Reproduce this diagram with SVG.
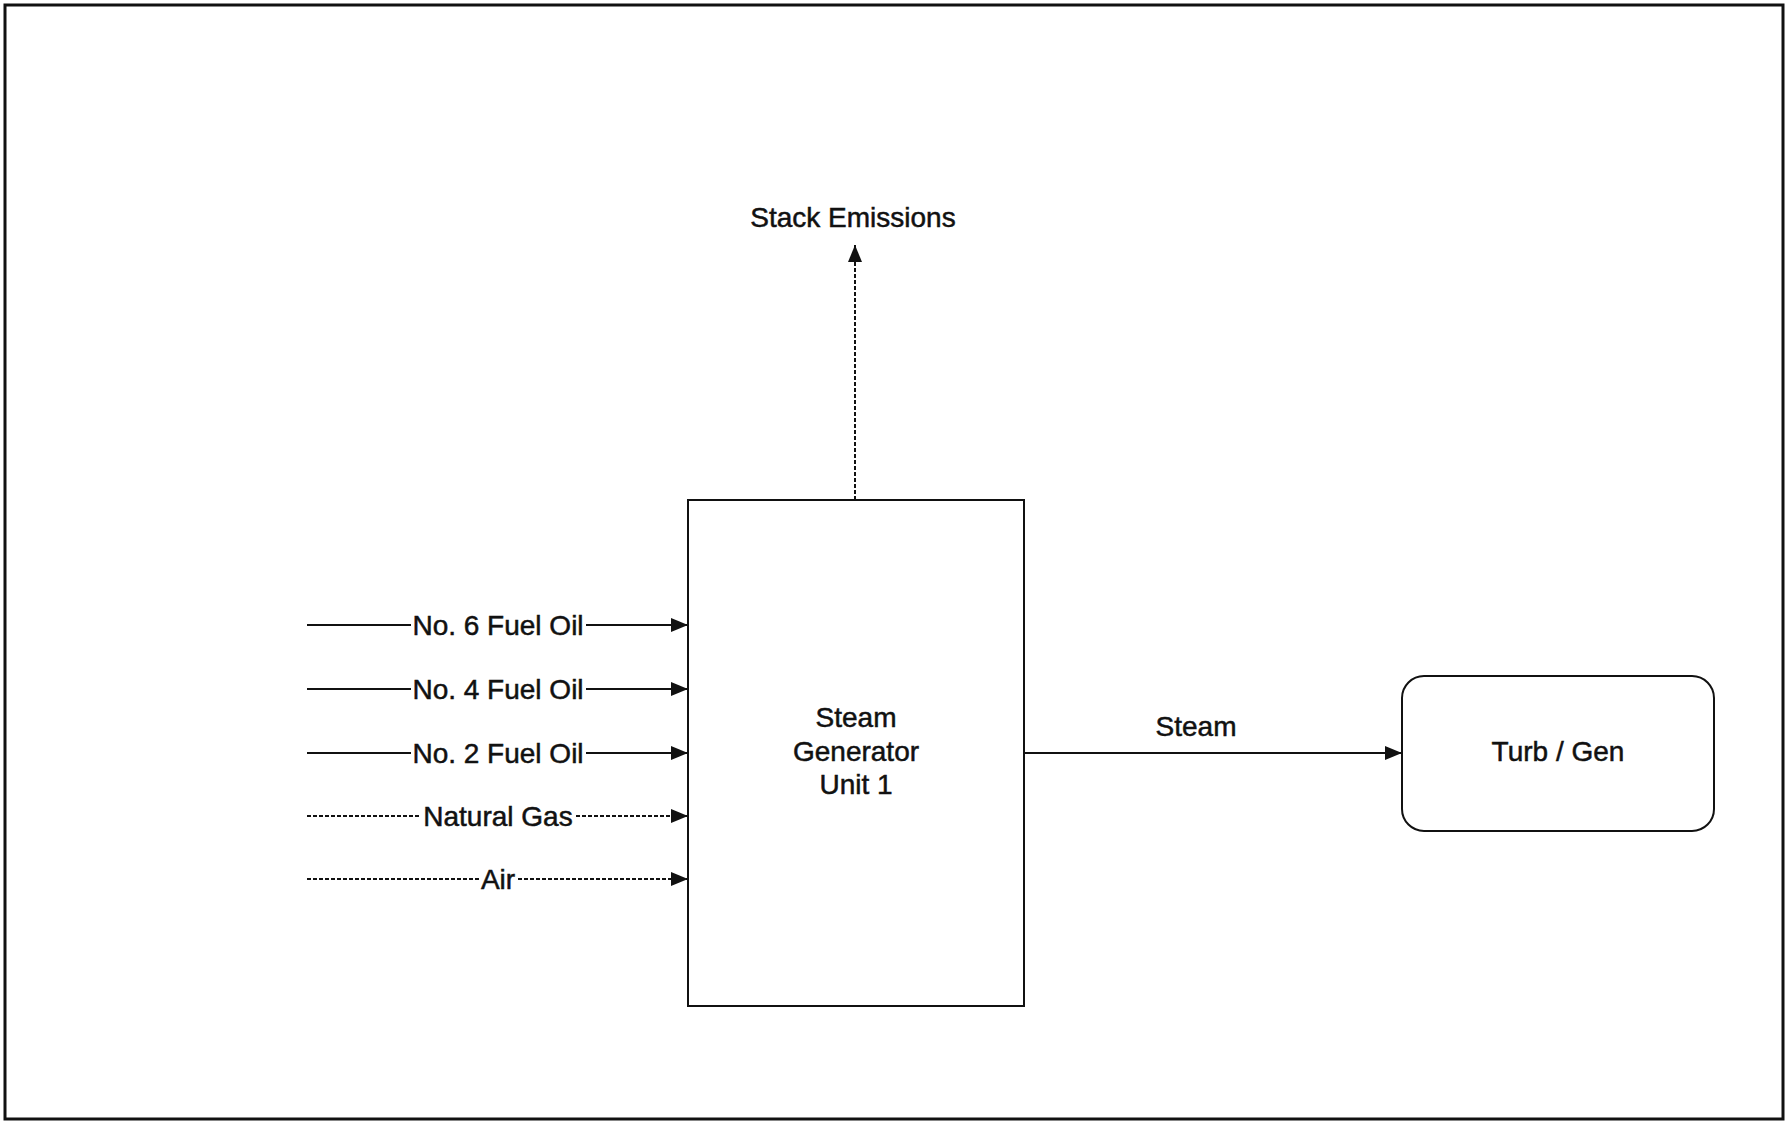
<svg xmlns="http://www.w3.org/2000/svg" width="1786" height="1121" viewBox="0 0 1786 1121">
<style>
text{font-family:"Liberation Sans",Arial,sans-serif;font-size:28px;fill:#111;stroke:#111;stroke-width:0.5;}
.lbl{text-anchor:middle;}
.box{fill:#fff;stroke:#111;stroke-width:2;}
.solid{stroke:#111;stroke-width:2;fill:none;}
.dash{stroke:#111;stroke-width:2;fill:none;stroke-dasharray:4 2;}
</style>
<defs>
<marker id="ah" markerUnits="userSpaceOnUse" markerWidth="17" markerHeight="14" refX="17" refY="7" orient="auto">
<path d="M0,0 L17,7 L0,14 Z" fill="#111"/>
</marker>
</defs>
<rect x="0" y="0" width="1786" height="1121" fill="#fff"/>
<rect id="frame" x="5" y="5" width="1778" height="1114" fill="none" stroke="#111" stroke-width="3"/>

<g id="connectors">
<g id="c-no6">
<line class="solid" x1="307" y1="625" x2="411" y2="625"/>
<line class="solid" x1="586" y1="625" x2="688" y2="625" marker-end="url(#ah)"/>
<text class="lbl" x="498" y="635">No. 6 Fuel Oil</text>
</g>
<g id="c-no4">
<line class="solid" x1="307" y1="689" x2="411" y2="689"/>
<line class="solid" x1="586" y1="689" x2="688" y2="689" marker-end="url(#ah)"/>
<text class="lbl" x="498" y="699">No. 4 Fuel Oil</text>
</g>
<g id="c-no2">
<line class="solid" x1="307" y1="753" x2="411" y2="753"/>
<line class="solid" x1="586" y1="753" x2="688" y2="753" marker-end="url(#ah)"/>
<text class="lbl" x="498" y="763">No. 2 Fuel Oil</text>
</g>
<g id="c-gas">
<line class="dash" x1="307" y1="816" x2="421" y2="816"/>
<line class="dash" x1="576" y1="816" x2="688" y2="816" marker-end="url(#ah)"/>
<text class="lbl" x="498" y="826">Natural Gas</text>
</g>
<g id="c-air">
<line class="dash" x1="307" y1="879" x2="479" y2="879"/>
<line class="dash" x1="518" y1="879" x2="688" y2="879" marker-end="url(#ah)"/>
<text class="lbl" x="498" y="889">Air</text>
</g>
<g id="c-stack">
<line class="dash" x1="855" y1="500" x2="855" y2="245" marker-end="url(#ah)"/>
<text class="lbl" x="853" y="227">Stack Emissions</text>
</g>
<g id="c-steam">
<line class="solid" x1="1024" y1="753" x2="1402" y2="753" stroke-width="1.6" marker-end="url(#ah)"/>
<text class="lbl" x="1196" y="736">Steam</text>
</g>
</g>

<g id="steam-generator">
<rect class="box" x="688" y="500" width="336" height="506"/>
<text class="lbl" x="856" y="727">Steam</text>
<text class="lbl" x="856" y="761">Generator</text>
<text class="lbl" x="856" y="794">Unit 1</text>
</g>

<g id="turb-gen">
<rect class="box" x="1402" y="676" width="312" height="155" rx="22" ry="22"/>
<text class="lbl" x="1558" y="761">Turb / Gen</text>
</g>
</svg>
